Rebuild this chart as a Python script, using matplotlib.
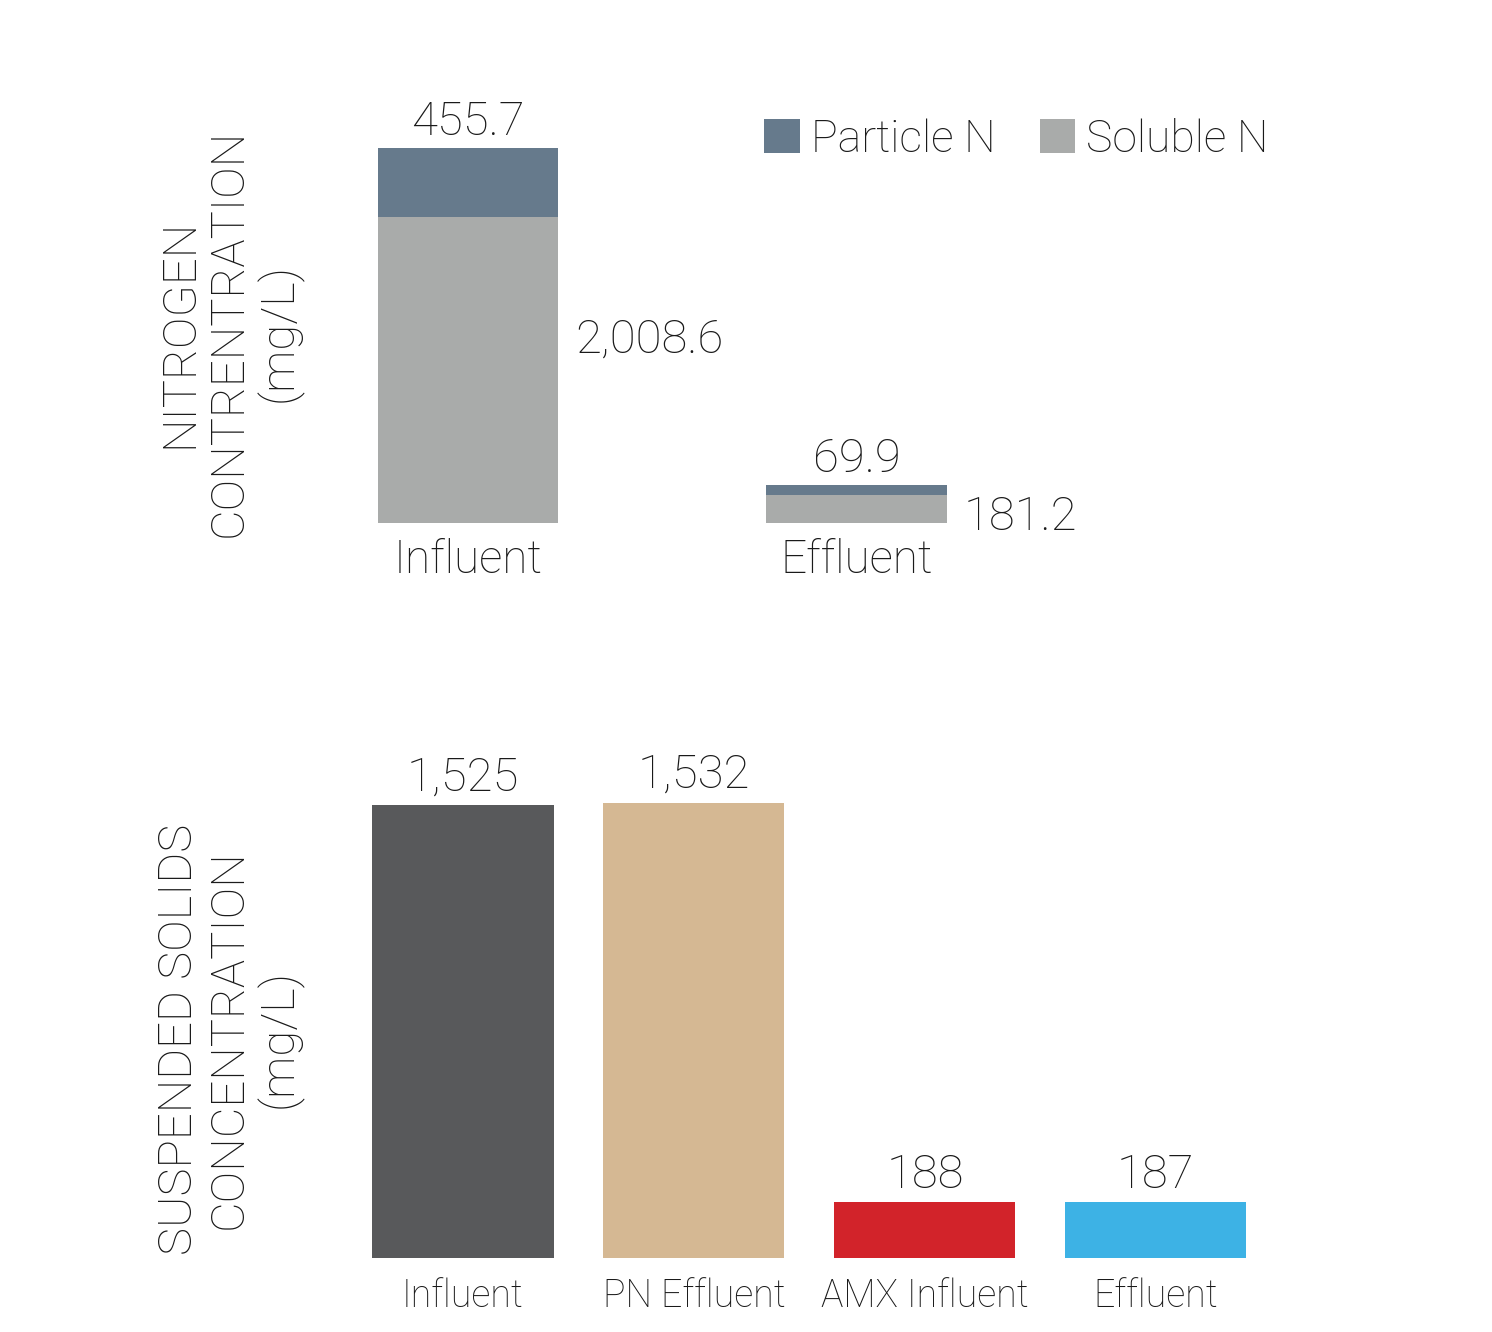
import matplotlib.pyplot as plt
import numpy as np

# nitrogen chart
n_cats = ['Influent', 'Effluent']
particle_n = [455.7, 69.9]
soluble_n = [2008.6, 181.2]
particle_lbl = ['455.7', '69.9']
soluble_lbl = ['2,008.6', '181.2']

# suspended solids chart
ss_cats = ['Influent', 'PN Effluent', 'AMX Influent', 'Effluent']
ss_vals = [1525, 1532, 188, 187]
ss_lbl = ['1,525', '1,532', '188', '187']
ss_colors = ['#58595b', '#d5b893', '#d2232a', '#3db2e5']

c_part = '#667a8c'
c_sol = '#a9abaa'
txt = '#1a1a1a'

plt.rcParams['font.family'] = ['Roboto', 'DejaVu Sans']
plt.rcParams['font.weight'] = 'light'

W, H = 1492, 1332
fig = plt.figure(figsize=(W / 100, H / 100), dpi=100)

# ---- top chart ----
ax1 = fig.add_axes([273.5 / W, 1 - 523 / H, 1050 / W, 426 / H])
x1 = np.arange(len(n_cats))
bw1 = 0.465
ax1.bar(x1, soluble_n, bw1, color=c_sol, label='Soluble N')
ax1.bar(x1, particle_n, bw1, bottom=soluble_n, color=c_part, label='Particle N')
ax1.set_xlim(-0.5, 2.2)
ax1.set_ylim(0, 2800)
ax1.axis('off')

sol_pos = [0.6, 0.2]
for i in range(len(n_cats)):
    top = soluble_n[i] + particle_n[i]
    ax1.annotate(particle_lbl[i], (x1[i], top), xytext=(0, 3), textcoords='offset points',
                 ha='center', va='bottom', fontsize=34, color=txt)
    ax1.annotate(soluble_lbl[i], (x1[i] + bw1 / 2, soluble_n[i] * sol_pos[i]), xytext=(12, 0),
                 textcoords='offset points', ha='left', va='center', fontsize=34, color=txt)
    ax1.annotate(n_cats[i], (x1[i], 0), xytext=(0, -11), textcoords='offset points',
                 ha='center', va='top', fontsize=33, color=txt)

h, l = ax1.get_legend_handles_labels()
fig.legend(h[::-1], l[::-1], loc='upper left', bbox_to_anchor=(764 / W, 1 - 118 / H),
           ncol=2, frameon=False, fontsize=32, handlelength=0.8, handleheight=0.8,
           handletextpad=0.25, columnspacing=1.0, borderpad=0, borderaxespad=0,
           labelcolor=txt)

fig.text(230 / W, 1 - 333 / H, 'NITROGEN\nCONTRENTRATION\n(mg/L)', rotation=90,
         ha='center', va='center', multialignment='center', fontsize=34,
         linespacing=1.15, color=txt)

# ---- bottom chart ----
ax2 = fig.add_axes([324.4 / W, 1 - 1258 / H, 970 / W, 535 / H])
x2 = np.arange(len(ss_cats))
bw2 = 0.784
ax2.bar(x2, ss_vals, bw2, color=ss_colors)
ax2.set_xlim(-0.6, 3.6)
ax2.set_ylim(0, 1800)
ax2.axis('off')

for i in range(len(ss_cats)):
    ax2.annotate(ss_lbl[i], (x2[i], ss_vals[i]), xytext=(0, 4), textcoords='offset points',
                 ha='center', va='bottom', fontsize=34, color=txt)
    ax2.annotate(ss_cats[i], (x2[i], 0), xytext=(0, -14), textcoords='offset points',
                 ha='center', va='top', fontsize=27, color=txt)

fig.text(230 / W, 1 - 1039 / H, 'SUSPENDED SOLIDS\nCONCENTRATION\n(mg/L)', rotation=90,
         ha='center', va='center', multialignment='center', fontsize=34,
         linespacing=1.15, color=txt)

fig.savefig('out.png', dpi=100, facecolor='white')
